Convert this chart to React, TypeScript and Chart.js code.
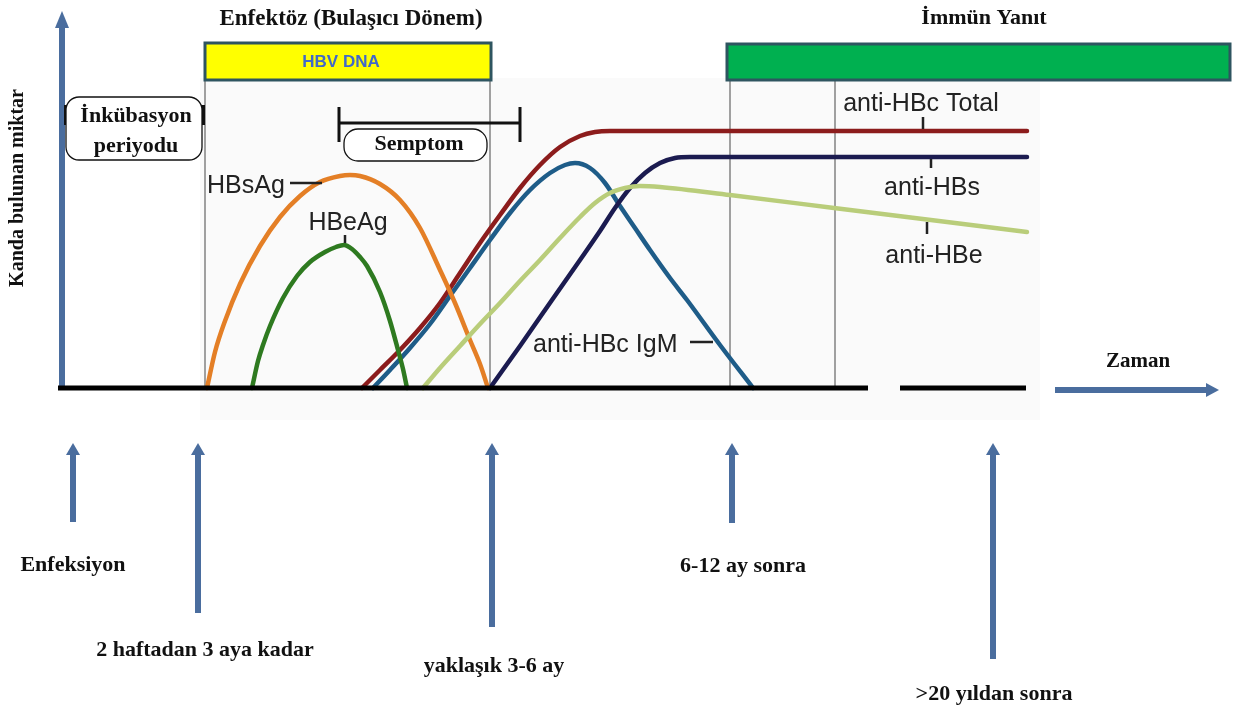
import React, { useEffect, useRef } from "react";
import { Chart, registerables } from "chart.js";

Chart.register(...registerables);

// ---- Data (time in arbitrary units, level = amount in blood) ----
const hbsAgTime = [207, 215, 225, 240, 260, 280, 300, 320, 340, 350, 360, 380, 400, 420, 440, 455, 470, 480, 488];
const hbsAgLevel = [0, 36, 67, 104, 142, 171, 192, 206, 212, 213, 212, 204, 188, 160, 118, 85, 48, 24, 0];

const hbeAgTime = [252, 258, 263, 270, 283, 297, 310, 325, 336, 344, 352, 360, 367, 380, 390, 398, 403, 407];
const hbeAgLevel = [0, 27, 43, 62, 90, 112, 126, 136, 141, 143, 139, 131, 122, 96, 67, 38, 19, 0];

const antiHBcTotalTime = [362, 380, 400, 420, 440, 460, 480, 500, 520, 540, 560, 580, 595, 610, 650, 1027];
const antiHBcTotalLevel = [0, 18, 38, 60, 85, 115, 145, 173, 200, 223, 241, 252, 256, 257, 257, 257];

const antiHBcIgMTime = [373, 390, 410, 430, 450, 470, 490, 510, 530, 550, 565, 575, 590, 605, 620, 635, 650, 670, 687, 720, 753];
const antiHBcIgMLevel = [0, 18, 40, 64, 92, 120, 148, 175, 198, 215, 223, 225, 220, 205, 182, 160, 138, 110, 88, 43, 0];

const antiHBsTime = [490, 520, 552, 580, 600, 615, 630, 645, 660, 675, 690, 1027];
const antiHBsLevel = [0, 42, 88, 128, 157, 180, 200, 215, 225, 230, 231, 231];

const antiHBeTime = [423, 440, 460, 480, 500, 520, 540, 560, 580, 595, 610, 625, 640, 660, 730, 834, 1027];
const antiHBeLevel = [0, 20, 42, 64, 85, 107, 128, 150, 171, 185, 195, 200, 202, 201, 193, 180, 156];

const seriesNames = ["HBsAg", "HBeAg", "anti-HBc Total", "anti-HBc IgM", "anti-HBs", "anti-HBe"];
const seriesColors = ["#E47F26", "#2E7A20", "#8C1C1C", "#1E5C88", "#1B1B50", "#B9CD7A"];

// Time markers on the bottom
const markerTimes = [73, 198, 492, 732, 993];
const markerLabels = ["Enfeksiyon", "2 haftadan 3 aya kadar", "yaklaşık 3-6 ay", "6-12 ay sonra", ">20 yıldan sonra"];
const phaseLineTimes = [205, 490, 730, 835];

const zip = (xs: number[], ys: number[]) => xs.map((x, i) => ({ x, y: ys[i] }));

const SERIF = '"Liberation Serif", "Times New Roman", serif';
const SANS = '"Liberation Sans", Arial, sans-serif';
const ARROW = "#4A6D9E";

function roundRect(ctx: CanvasRenderingContext2D, x: number, y: number, w: number, h: number, r: number) {
  ctx.beginPath();
  ctx.moveTo(x + r, y);
  ctx.lineTo(x + w - r, y);
  ctx.arcTo(x + w, y, x + w, y + r, r);
  ctx.lineTo(x + w, y + h - r);
  ctx.arcTo(x + w, y + h, x + w - r, y + h, r);
  ctx.lineTo(x + r, y + h);
  ctx.arcTo(x, y + h, x, y + h - r, r);
  ctx.lineTo(x, y + r);
  ctx.arcTo(x, y, x + r, y, r);
  ctx.closePath();
}

const annotPlugin = {
  id: "hbvAnnot",
  beforeDatasetsDraw(chart: any) {
    const ctx: CanvasRenderingContext2D = chart.ctx;
    const X = (v: number) => chart.scales.x.getPixelForValue(v);
    const Y = (v: number) => chart.scales.y.getPixelForValue(v);
    ctx.save();
    // faint figure background
    ctx.fillStyle = "#fafafa";
    ctx.fillRect(X(200), Y(310), X(1040) - X(200), Y(-32) - Y(310));

    // phase vertical lines
    ctx.strokeStyle = "#8a8a8a";
    ctx.lineWidth = 1.6;
    phaseLineTimes.forEach((t) => {
      ctx.beginPath();
      ctx.moveTo(X(t), Y(308));
      ctx.lineTo(X(t), Y(0));
      ctx.stroke();
    });

    // HBV DNA box
    ctx.fillStyle = "#FFFF00";
    ctx.fillRect(X(205), Y(345), X(491) - X(205), Y(308) - Y(345));
    ctx.strokeStyle = "#2E5560";
    ctx.lineWidth = 3;
    ctx.strokeRect(X(205), Y(345), X(491) - X(205), Y(308) - Y(345));
    ctx.fillStyle = "#4169C8";
    ctx.font = `bold 17px "Liberation Sans Narrow", ${SANS}`;
    ctx.textAlign = "center";
    ctx.textBaseline = "middle";
    ctx.fillText("HBV DNA", X(341), Y(326));

    // Immune response box
    ctx.fillStyle = "#00B050";
    ctx.fillRect(X(727), Y(344), X(1230) - X(727), Y(308) - Y(344));
    ctx.strokeStyle = "#2E5560";
    ctx.strokeRect(X(727), Y(344), X(1230) - X(727), Y(308) - Y(344));

    // titles
    ctx.fillStyle = "#111";
    ctx.textBaseline = "alphabetic";
    ctx.font = `bold 23px ${SERIF}`;
    ctx.fillText("Enfektöz (Bulaşıcı Dönem)", X(351), Y(363));
    ctx.font = `bold 22px ${SERIF}`;
    ctx.fillText("İmmün Yanıt", X(984), Y(364));

    // y axis arrow
    ctx.strokeStyle = ARROW;
    ctx.fillStyle = ARROW;
    ctx.lineWidth = 6;
    ctx.beginPath();
    ctx.moveTo(X(62), Y(0));
    ctx.lineTo(X(62), Y(362));
    ctx.stroke();
    ctx.beginPath();
    ctx.moveTo(X(55), Y(360));
    ctx.lineTo(X(69), Y(360));
    ctx.lineTo(X(62), Y(377));
    ctx.closePath();
    ctx.fill();

    // y axis label
    ctx.save();
    ctx.translate(X(18), Y(200));
    ctx.rotate(-Math.PI / 2);
    ctx.fillStyle = "#111";
    ctx.font = `bold 20px ${SERIF}`;
    ctx.textAlign = "center";
    ctx.textBaseline = "middle";
    ctx.fillText("Kanda bulunan miktar", 0, 0);
    ctx.restore();

    // incubation bracket + box
    ctx.strokeStyle = "#111";
    ctx.lineWidth = 4;
    ctx.beginPath();
    ctx.moveTo(X(66), Y(283));
    ctx.lineTo(X(66), Y(263));
    ctx.moveTo(X(203), Y(283));
    ctx.lineTo(X(203), Y(263));
    ctx.stroke();
    ctx.lineWidth = 3;
    ctx.beginPath();
    ctx.moveTo(X(66), Y(273));
    ctx.lineTo(X(203), Y(273));
    ctx.stroke();
    roundRect(ctx, X(66), Y(291), X(202) - X(66), Y(228) - Y(291), 13);
    ctx.fillStyle = "#fff";
    ctx.fill();
    ctx.lineWidth = 1.3;
    ctx.stroke();
    ctx.fillStyle = "#111";
    ctx.font = `bold 22px ${SERIF}`;
    ctx.textAlign = "center";
    ctx.textBaseline = "alphabetic";
    ctx.fillText("İnkübasyon", X(136), Y(266));
    ctx.fillText("periyodu", X(136), Y(236));

    // symptom bracket + box
    ctx.lineWidth = 3;
    ctx.beginPath();
    ctx.moveTo(X(339), Y(265));
    ctx.lineTo(X(520), Y(265));
    ctx.moveTo(X(339), Y(281));
    ctx.lineTo(X(339), Y(246));
    ctx.moveTo(X(520), Y(281));
    ctx.lineTo(X(520), Y(246));
    ctx.stroke();
    roundRect(ctx, X(344), Y(259), X(487) - X(344), Y(227) - Y(259), 14);
    ctx.fillStyle = "#fff";
    ctx.fill();
    ctx.lineWidth = 1.3;
    ctx.stroke();
    ctx.fillStyle = "#111";
    ctx.fillText("Semptom", X(419), Y(238));
    ctx.restore();
  },
  afterDatasetsDraw(chart: any) {
    const ctx: CanvasRenderingContext2D = chart.ctx;
    const X = (v: number) => chart.scales.x.getPixelForValue(v);
    const Y = (v: number) => chart.scales.y.getPixelForValue(v);
    ctx.save();
    // baseline (time axis, broken)
    ctx.strokeStyle = "#000";
    ctx.lineWidth = 5;
    ctx.beginPath();
    ctx.moveTo(X(58), Y(0));
    ctx.lineTo(X(868), Y(0));
    ctx.moveTo(X(900), Y(0));
    ctx.lineTo(X(1026), Y(0));
    ctx.stroke();

    // curve labels
    ctx.fillStyle = "#222";
    ctx.strokeStyle = "#222";
    ctx.font = `25px ${SANS}`;
    ctx.textBaseline = "alphabetic";
    ctx.textAlign = "left";
    ctx.fillText(seriesNames[0], X(207), Y(195));
    ctx.fillText(seriesNames[3], X(533), Y(36));
    ctx.textAlign = "center";
    ctx.fillText(seriesNames[1], X(348), Y(158));
    ctx.fillText(seriesNames[2], X(921), Y(277));
    ctx.fillText(seriesNames[4], X(932), Y(193));
    ctx.fillText(seriesNames[5], X(934), Y(125));
    ctx.lineWidth = 2.5;
    ctx.beginPath();
    ctx.moveTo(X(290), Y(205));
    ctx.lineTo(X(322), Y(205));
    ctx.moveTo(X(345), Y(153));
    ctx.lineTo(X(345), Y(145));
    ctx.moveTo(X(923), Y(271));
    ctx.lineTo(X(923), Y(259));
    ctx.moveTo(X(931), Y(229));
    ctx.lineTo(X(931), Y(220));
    ctx.moveTo(X(927), Y(166));
    ctx.lineTo(X(927), Y(154));
    ctx.moveTo(X(690), Y(46));
    ctx.lineTo(X(713), Y(46));
    ctx.stroke();

    // time arrow "Zaman"
    ctx.strokeStyle = ARROW;
    ctx.fillStyle = ARROW;
    ctx.lineWidth = 6;
    ctx.beginPath();
    ctx.moveTo(X(1055), Y(-2));
    ctx.lineTo(X(1208), Y(-2));
    ctx.stroke();
    ctx.beginPath();
    ctx.moveTo(X(1206), Y(5));
    ctx.lineTo(X(1219), Y(-2));
    ctx.lineTo(X(1206), Y(-9));
    ctx.closePath();
    ctx.fill();
    ctx.fillStyle = "#111";
    ctx.font = `bold 21px ${SERIF}`;
    ctx.textAlign = "center";
    ctx.fillText("Zaman", X(1138), Y(21));

    // bottom markers
    const bottoms = [-134, -225, -239, -135, -271];
    const labelLevels = [-183, -268, -284, -184, -312];
    const labelCenters = [73, 205, 494, 743, 994];
    markerTimes.forEach((t, i) => {
      ctx.strokeStyle = ARROW;
      ctx.fillStyle = ARROW;
      ctx.lineWidth = 6;
      ctx.beginPath();
      ctx.moveTo(X(t), Y(bottoms[i]));
      ctx.lineTo(X(t), Y(-66));
      ctx.stroke();
      ctx.beginPath();
      ctx.moveTo(X(t - 7), Y(-67));
      ctx.lineTo(X(t + 7), Y(-67));
      ctx.lineTo(X(t), Y(-55));
      ctx.closePath();
      ctx.fill();
      ctx.fillStyle = "#111";
      ctx.font = `bold 22px ${SERIF}`;
      ctx.textAlign = "center";
      ctx.fillText(markerLabels[i], X(labelCenters[i]), Y(labelLevels[i]));
    });
    ctx.restore();
  },
};

export default function App() {
  const ref = useRef<HTMLCanvasElement>(null);
  useEffect(() => {
    const series = [
      zip(hbsAgTime, hbsAgLevel),
      zip(hbeAgTime, hbeAgLevel),
      zip(antiHBcTotalTime, antiHBcTotalLevel),
      zip(antiHBcIgMTime, antiHBcIgMLevel),
      zip(antiHBsTime, antiHBsLevel),
      zip(antiHBeTime, antiHBeLevel),
    ];
    // draw order: light green first, then others
    const order = [5, 0, 1, 4, 3, 2];
    const chart = new Chart(ref.current!, {
      type: "line",
      data: {
        datasets: order.map((i) => ({
          label: seriesNames[i],
          data: series[i],
          borderColor: seriesColors[i],
          backgroundColor: seriesColors[i],
          borderWidth: 4.5,
          pointRadius: 0,
          fill: false,
          cubicInterpolationMode: "monotone" as const,
          borderCapStyle: "round" as const,
        })),
      },
      options: {
        responsive: false,
        animation: false,
        layout: { padding: 0 },
        events: [],
        scales: {
          x: { type: "linear", min: 0, max: 1237, display: false },
          y: { type: "linear", min: -325, max: 388, display: false },
        },
        plugins: { legend: { display: false }, tooltip: { enabled: false } },
      },
      plugins: [annotPlugin],
    });
    return () => chart.destroy();
  }, []);
  return (
    <div style={{ position: "absolute", left: 0, top: 0, width: 1237, height: 713, background: "#fff" }}>
      <canvas ref={ref} width={1237} height={713} style={{ display: "block", width: 1237, height: 713 }} />
    </div>
  );
}
